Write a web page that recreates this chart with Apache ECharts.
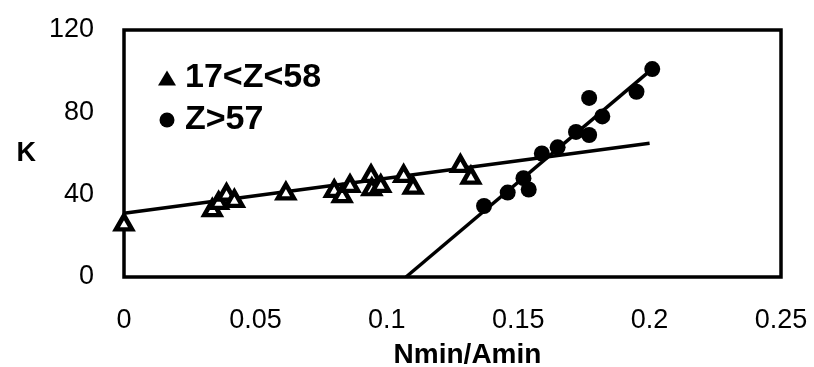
<!DOCTYPE html>
<html>
<head>
<meta charset="utf-8">
<script src="https://cdn.jsdelivr.net/npm/echarts@6/dist/echarts.min.js"></script>
<style>
  html, body { margin: 0; padding: 0; background: #fff; }
  #chart { width: 814px; height: 367px; }
</style>
</head>
<body>
<div id="chart"></div>
<script>
// values
const triName = '17<Z<58';
const triX = [0, 0.0336, 0.036, 0.039, 0.042, 0.0616, 0.080, 0.083, 0.086, 0.094, 0.0943, 0.0977, 0.1064, 0.110, 0.128, 0.132];
const triK = [26.5, 33.5, 37, 41, 38, 41.6, 42.8, 40.3, 45.2, 50.1, 43.6, 45.2, 50.1, 44.4, 55, 49.3];

const dotName = 'Z>57';
const dotX = [0.137, 0.146, 0.152, 0.154, 0.159, 0.165, 0.172, 0.177, 0.177, 0.182, 0.195, 0.201];
const dotK = [34.5, 41, 48, 42.5, 60, 63, 70.5, 69, 87, 78, 90, 101];

// the two fitted lines (end points)
const fit1X = [0, 0.2];
const fit1K = [31, 65];
const fit2X = [0.1073, 0.2];
const fit2K = [0, 100];

const xTicks = [0, 0.25, 0.05];   // min, max, step
const yTicks = [0, 120, 40];

const zip = (xs, ys) => xs.map((x, i) => [x, ys[i]]);
const font = "'Liberation Sans', Arial, sans-serif";

const chart = echarts.init(document.getElementById('chart'));
const option = {
    backgroundColor: '#fff',
    animation: false,
    grid: {
        left: 124, right: 33, top: 30, bottom: 90,
        outerBoundsMode: 'none',
        show: true, borderColor: '#000', borderWidth: 3.5, backgroundColor: 'transparent'
    },
    legend: {
        orient: 'vertical',
        left: 153, top: 56,
        itemWidth: 18, itemHeight: 15, itemGap: 8,
        textStyle: { fontFamily: font, fontSize: 34, fontWeight: 'bold', color: '#000', padding: [0, 0, 0, 4] },
        data: [
            { name: triName, icon: 'triangle', itemStyle: { color: '#000', borderWidth: 0 } },
            { name: dotName, icon: 'circle', itemStyle: { color: '#000', borderWidth: 0 } }
        ]
    },
    xAxis: {
        type: 'value',
        min: xTicks[0], max: xTicks[1], interval: xTicks[2],
        name: 'Nmin/Amin', nameLocation: 'middle', nameGap: 64,
        nameTextStyle: { fontFamily: font, fontSize: 28, fontWeight: 'bold', color: '#000', padding: [0, 0, 0, 30] },
        axisLine: { show: false }, axisTick: { show: false }, splitLine: { show: false },
        axisLabel: { fontFamily: font, fontSize: 27, color: '#000', margin: 30 }
    },
    yAxis: {
        type: 'value',
        min: yTicks[0], max: yTicks[1], interval: yTicks[2],
        name: 'K', nameLocation: 'middle', nameGap: 88, nameRotate: 0,
        nameTextStyle: { fontFamily: font, fontSize: 27, fontWeight: 'bold', color: '#000', padding: [0, 0, 6, 0] },
        axisLine: { show: false }, axisTick: { show: false }, splitLine: { show: false },
        axisLabel: { fontFamily: font, fontSize: 27, color: '#000', margin: 30 }
    },
    series: [
        {
            name: 'fit1', type: 'line', data: zip(fit1X, fit1K),
            symbol: 'none', lineStyle: { color: '#000', width: 3.5 }, z: 1
        },
        {
            name: 'fit2', type: 'line', data: zip(fit2X, fit2K),
            symbol: 'none', lineStyle: { color: '#000', width: 3.5 }, z: 1
        },
        {
            name: triName, type: 'scatter', data: zip(triX, triK),
            symbol: 'triangle', symbolSize: [16, 14],
            itemStyle: { color: '#fff', borderColor: '#000', borderWidth: 4.5, opacity: 1 }, z: 3
        },
        {
            name: dotName, type: 'scatter', data: zip(dotX, dotK),
            symbol: 'circle', symbolSize: 16,
            itemStyle: { color: '#000', opacity: 1 }, z: 3
        }
    ]
};
option && chart.setOption(option);
</script>
</body>
</html>
